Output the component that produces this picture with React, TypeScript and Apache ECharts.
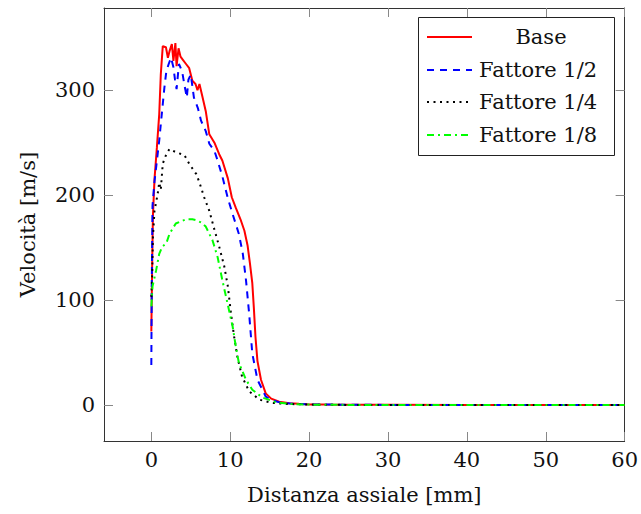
import React, { useEffect, useRef } from "react";
import * as echarts from "echarts";

// ---- data ----
const xTicks = [0, 10, 20, 30, 40, 50, 60];
const yTicks = [0, 100, 200, 300];

const seriesNames = ["Base", "Fattore 1/2", "Fattore 1/4", "Fattore 1/8"];

const baseX = [0, 0.1, 0.2, 0.4, 0.7, 1.0, 1.2, 1.45, 1.85, 2.1, 2.3, 2.6, 2.8, 3.05, 3.2, 3.45, 3.7, 4.0, 4.4, 4.8, 5.2, 5.6, 5.85, 6.1, 6.5, 6.9, 7.35, 8.0, 8.6, 9.0, 9.7, 10.2, 10.7, 11.3, 11.8, 12.2, 12.5, 12.8, 13.0, 13.2, 13.45, 13.9, 14.5, 15.2, 16.2, 17.5, 18.7, 20, 22, 25, 30, 40, 50, 60];
const baseY = [70, 130, 180, 215, 245, 277, 315, 342, 341, 331, 337, 344, 328, 345, 323, 340, 332, 329, 325, 321, 309, 306, 300, 306, 293, 280, 258, 250, 239, 233, 216, 198, 188, 177, 166, 152, 135, 116, 92, 65, 42, 24, 11, 6, 3, 1.5, 1, 0.5, 0.3, 0.2, 0.1, 0, 0, 0];

const halfX = [0, 0.05, 0.15, 0.4, 0.6, 1.0, 1.4, 1.65, 1.9, 2.2, 2.5, 2.8, 3.0, 3.2, 3.5, 3.9, 4.2, 4.5, 4.7, 5.0, 5.4, 5.9, 6.3, 6.9, 7.35, 8.0, 8.4, 9.0, 9.7, 10.3, 11.1, 11.6, 12.0, 12.4, 12.8, 13.45, 14.5, 15.5, 16.5, 18, 20, 25, 30, 60];
const halfY = [38, 110, 190, 213, 226, 252, 283, 302, 318, 325, 331, 322, 310, 301, 325, 318, 305, 293, 310, 315, 293, 283, 271, 261, 249, 242, 233, 218, 197, 182, 163, 144, 119, 87, 49, 24, 8, 4, 2, 1, 0.5, 0.2, 0, 0];

const quarterX = [0, 0.1, 0.2, 0.4, 0.8, 1.0, 1.2, 1.45, 1.9, 2.3, 3.1, 4.2, 4.8, 5.7, 6.1, 6.7, 7.35, 8.0, 8.6, 9.25, 9.7, 10.1, 10.5, 10.9, 11.5, 12.4, 13.7, 15.3, 17, 20, 25, 60];
const quarterY = [103, 122, 160, 185, 201, 212, 205, 230, 239, 244, 241, 238, 230, 220, 212, 198, 185, 167, 151, 132, 113, 87, 65, 46, 27, 13, 5, 2, 1, 0.3, 0, 0];

const eighthX = [0, 0.15, 0.6, 1.0, 1.4, 1.9, 2.3, 3.1, 4.4, 5.2, 5.7, 6.3, 6.9, 7.75, 8.4, 9.0, 9.65, 10.3, 10.7, 11.1, 12.0, 12.8, 14.1, 15.8, 17.5, 20, 25, 60];
const eighthY = [94, 113, 128, 144, 151, 154, 163, 173, 177, 177, 176, 174, 170, 157, 141, 119, 97, 75, 56, 40, 24, 14.5, 7, 2.5, 1, 0.3, 0, 0];

// ---- styles ----
const colors = ["#ff0000", "#0000ff", "#000000", "#00ff00"];
const dashes: any[] = ["solid", [7, 6], [2, 4.5], [7, 4, 2, 4]];
const FONT = "DejaVu Serif";
const FS = 21;

export default function App() {
  const ref = useRef<HTMLDivElement>(null);
  useEffect(() => {
    if (!ref.current) return;
    const chart = echarts.init(ref.current, undefined, { renderer: "svg" });
    const xs = [baseX, halfX, quarterX, eighthX];
    const ys = [baseY, halfY, quarterY, eighthY];

    const axisLine = { show: true, onZero: false, lineStyle: { color: "#333", width: 1 } };
    const tickStyle = { color: "#888", width: 1 };
    const labelStyle = { fontSize: FS, fontFamily: FONT, color: "#111" };

    const legendRows = [37, 70, 102, 135];
    const legendGraphics: any[] = [
      {
        type: "rect",
        z: 100,
        shape: { x: 418.5, y: 17.5, width: 196, height: 138 },
        style: { fill: "#fff", stroke: "#222", lineWidth: 1 },
      },
    ];
    seriesNames.forEach((name, i) => {
      legendGraphics.push({
        type: "line",
        z: 101,
        shape: { x1: 427, y1: legendRows[i], x2: 472, y2: legendRows[i] },
        style: {
          stroke: colors[i],
          lineWidth: 2,
          lineDash: dashes[i] === "solid" ? null : dashes[i],
          lineCap: "butt",
        },
      });
      legendGraphics.push({
        type: "text",
        z: 101,
        x: i === 0 ? 541 : 479,
        y: legendRows[i],
        style: {
          text: name,
          fontSize: FS,
          fontFamily: FONT,
          fill: "#111",
          align: i === 0 ? "center" : "left",
          verticalAlign: "middle",
        },
      });
    });

    chart.setOption({
      animation: false,
      backgroundColor: "#ffffff",
      grid: { left: 104, right: 15, top: 8, bottom: 73, containLabel: false },
      xAxis: [
        {
          type: "value",
          min: -6,
          max: 60,
          position: "bottom",
          axisLine,
          axisTick: { show: true, inside: true, length: 9, customValues: xTicks, lineStyle: tickStyle },
          axisLabel: { customValues: xTicks, margin: 8, ...labelStyle },
          splitLine: { show: false },
          name: "Distanza assiale [mm]",
          nameLocation: "middle",
          nameGap: 43,
          nameTextStyle: labelStyle,
        },
        {
          type: "value",
          min: -6,
          max: 60,
          position: "top",
          axisLine,
          axisTick: { show: true, inside: true, length: 9, customValues: xTicks, lineStyle: tickStyle },
          axisLabel: { show: false },
          splitLine: { show: false },
        },
      ],
      yAxis: [
        {
          type: "value",
          min: -34.4,
          max: 378.4,
          position: "left",
          axisLine,
          axisTick: { show: true, inside: true, length: 9, customValues: yTicks, lineStyle: tickStyle },
          axisLabel: { customValues: yTicks, margin: 9, ...labelStyle },
          splitLine: { show: false },
          name: "Velocità [m/s]",
          nameLocation: "middle",
          nameGap: 66,
          nameTextStyle: labelStyle,
        },
        {
          type: "value",
          min: -34.4,
          max: 378.4,
          position: "right",
          axisLine,
          axisTick: { show: true, inside: true, length: 9, customValues: yTicks, lineStyle: tickStyle },
          axisLabel: { show: false },
          splitLine: { show: false },
        },
      ],
      series: seriesNames.map((name, i) => ({
        name,
        type: "line",
        xAxisIndex: 0,
        yAxisIndex: 0,
        showSymbol: false,
        symbol: "none",
        smooth: false,
        data: xs[i].map((x, j) => [x, ys[i][j]]),
        lineStyle: { color: colors[i], width: 2, type: dashes[i], cap: "butt" },
        itemStyle: { color: colors[i] },
        z: 2 + i,
      })),
      graphic: legendGraphics,
    });
    return () => chart.dispose();
  }, []);
  return (
    <div
      ref={ref}
      style={{ position: "fixed", left: 0, top: 0, width: 641, height: 514, background: "#fff" }}
    />
  );
}
